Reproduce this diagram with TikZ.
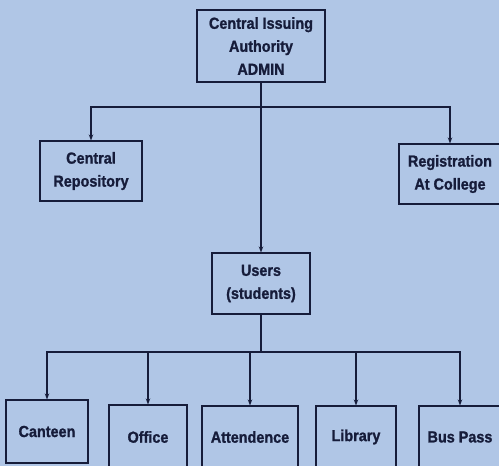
\documentclass[tikz,border=0pt]{standalone}
\usepackage{fontspec}
\setmainfont{Liberation Sans}[FakeStretch=0.9, BoldFeatures={FakeBold=1.2}]
\usetikzlibrary{arrows.meta}
\definecolor{paper}{RGB}{176,198,230}
\definecolor{ink}{RGB}{22,28,58}
\tikzset{
  box/.style={draw=ink, line width=1.1pt, text=ink, align=center,
    font=\fontsize{16}{23}\selectfont\bfseries, inner sep=0pt},
  arr/.style={draw=ink, line width=1.1pt, -{Stealth[length=6pt,width=4.5pt]}},
  ln/.style={draw=ink, line width=1.1pt}
}
\begin{document}
\begin{tikzpicture}[x=1pt,y=-1pt]
  \fill[paper] (0,0) rectangle (499,466);
  \clip (0,0) rectangle (499,466);
  \useasboundingbox (0,0) rectangle (499,466);

  % top level
  \node[box, minimum width=128pt, minimum height=72pt] (admin) at (261,46)
    {Central Issuing\\Authority\\ADMIN};
  \node[box, minimum width=102pt, minimum height=60pt] (repo) at (91,171)
    {Central\\Repository};
  \node[box, minimum width=102pt, minimum height=60pt] (reg) at (450,174)
    {Registration\\At College};
  \node[box, minimum width=98pt, minimum height=61pt] (users) at (261,283.5)
    {Users\\(students)};

  % services row
  \node[box, minimum width=82pt, minimum height=63pt] (canteen) at (47,431.5) {Canteen};
  \node[box, minimum width=78pt, minimum height=64pt] (office) at (148,437) {Office};
  \node[box, minimum width=96pt, minimum height=62pt] (attend) at (250,437) {Attendence};
  \node[box, minimum width=80pt, minimum height=62pt] (library) at (356,437) {Library};
  \node[box, minimum width=82pt, minimum height=62pt] (bus) at (460,437) {Bus Pass};

  % junctions of the two distribution bars
  \coordinate (j1) at (261,107);
  \coordinate (j2) at (261,352);

  \draw[arr] (admin.south) -- (users.north);
  \draw[arr] (j1) -| (repo.north);
  \draw[arr] (j1) -| (reg.north);

  \draw[ln] (users.south) -- (j2);
  \draw[arr] (j2) -| (canteen.north);
  \draw[arr] (j2) -| (office.north);
  \draw[arr] (j2) -| (attend.north);
  \draw[arr] (j2) -| (library.north);
  \draw[arr] (j2) -| (bus.north);
\end{tikzpicture}
\end{document}
